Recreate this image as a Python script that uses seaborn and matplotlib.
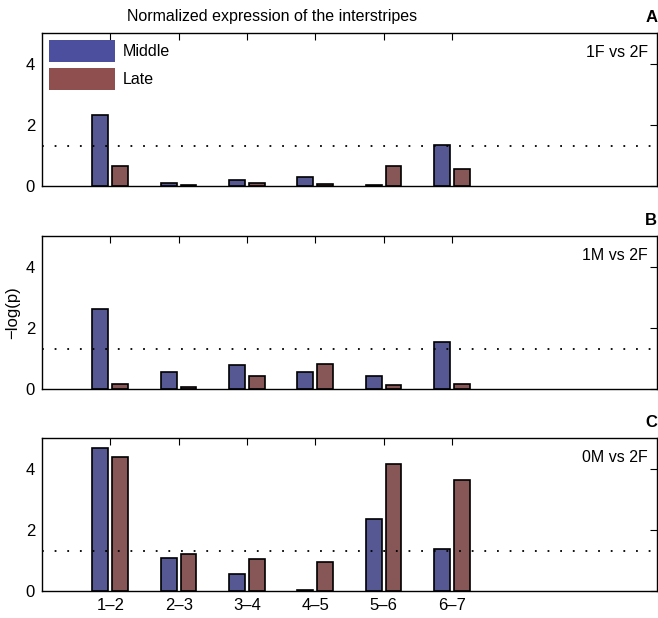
import numpy as np
import pandas as pd
import matplotlib
matplotlib.use("Agg")
import matplotlib.pyplot as plt
from matplotlib.patches import Patch
import seaborn as sns

# interstripe pairs
stripes = ["1–2", "2–3", "3–4", "4–5", "5–6", "6–7"]
positions = [1, 2, 3, 4, 5, 6]

# -log(p) values
middle_1F = [2.33, 0.09, 0.21, 0.29, 0.04, 1.34]
late_1F = [0.66, 0.02, 0.10, 0.07, 0.66, 0.56]
middle_1M = [2.61, 0.55, 0.77, 0.55, 0.44, 1.55]
late_1M = [0.15, 0.07, 0.42, 0.82, 0.13, 0.17]
middle_0M = [4.67, 1.07, 0.57, 0.02, 2.34, 1.37]
late_0M = [4.37, 1.22, 1.06, 0.94, 4.16, 3.64]

panels = [("A", "1F vs 2F", middle_1F, late_1F),
          ("B", "1M vs 2F", middle_1M, late_1M),
          ("C", "0M vs 2F", middle_0M, late_0M)]

threshold = -np.log10(0.05)
colors = {"Middle": "#4b4f9d", "Late": "#8f4f4f"}

sns.set_style("white")
plt.rcParams["font.family"] = ["Liberation Sans", "DejaVu Sans"]
plt.rcParams["font.size"] = 11
plt.rcParams["text.color"] = "black"
plt.rcParams["xtick.color"] = "black"
plt.rcParams["ytick.color"] = "black"
plt.rcParams["axes.labelcolor"] = "black"

fig = plt.figure(figsize=(6.58, 6.18), dpi=100)
axes_pos = [0.699, 0.3706, 0.0437]

for (letter, label, mid, late), y0 in zip(panels, axes_pos):
    ax = fig.add_axes([0.0638, y0, 0.9345, 0.2476])
    df = pd.DataFrame({
        "pos": positions * 2,
        "value": mid + late,
        "series": ["Middle"] * 6 + ["Late"] * 6,
    })
    sns.barplot(data=df, x="pos", y="value", hue="series", native_scale=True,
                palette=colors, width=0.58, gap=0.2, edgecolor="black",
                linewidth=1.2, legend=False, ax=ax)
    ax.axhline(threshold, color="black", linestyle=(0, (1, 6)), linewidth=1.3)
    ax.set_xlim(0, 9)
    ax.set_ylim(0, 5)
    ax.set_yticks([0, 2, 4])
    ax.set_xticks(positions)
    if letter == "C":
        ax.set_xticklabels(stripes)
    else:
        ax.set_xticklabels([])
    ax.set_xlabel("")
    ax.set_ylabel("")
    ax.tick_params(direction="in", length=5, top=True, right=True,
                   labelsize=12, width=0.8, pad=5)
    for s in ax.spines.values():
        s.set_linewidth(1.0)
        s.set_color("black")
    ax.text(0.985, 0.87, label, transform=ax.transAxes, ha="right",
            va="center", fontsize=11.5)
    fig.text(0.999, y0 + 0.2476 + 0.025, letter, ha="right", va="center",
             fontsize=12, fontweight="bold")
    if letter == "A":
        handles = [Patch(facecolor=colors["Middle"], edgecolor="none"),
                   Patch(facecolor=colors["Late"], edgecolor="none")]
        ax.legend(handles, ["Middle", "Late"], loc="upper left",
                  frameon=False, handlelength=4.1, handleheight=1.75,
                  labelspacing=0.35, borderaxespad=0.15, borderpad=0.3,
                  handletextpad=0.5, fontsize=11.5)
    if letter == "B":
        ax.set_ylabel("−log(p)", fontsize=12, labelpad=4)

fig.text(272 / 658, 1 - 17 / 618, "Normalized expression of the interstripes",
         ha="center", va="center", fontsize=11.5)

fig.savefig("out.png", dpi=100)
